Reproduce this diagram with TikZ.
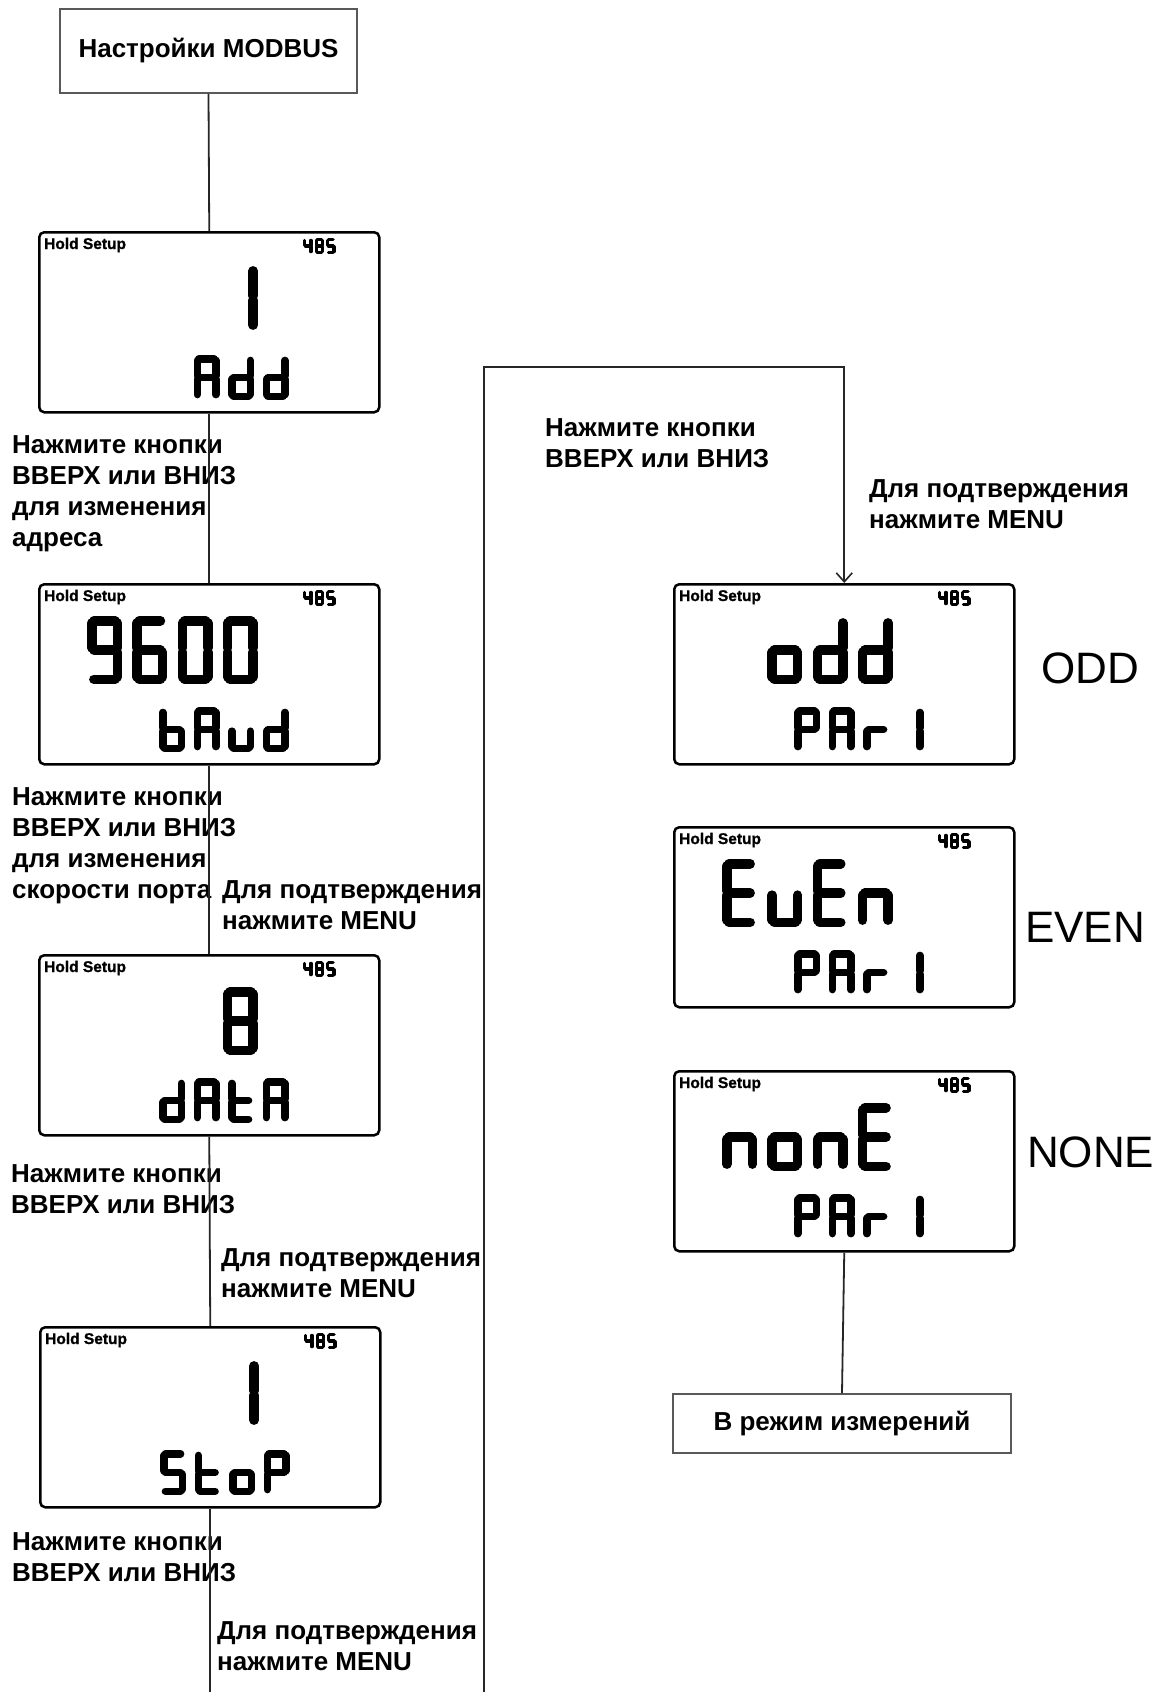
\documentclass[tikz,border=0pt]{standalone}
\usepackage{fontspec}
\setmainfont{Liberation Sans}
\newfontfamily\hdfont[FakeBold=1.2]{Liberation Sans Bold}
\usetikzlibrary{arrows.meta}

% seven-segment codes
\def\dgA{abcefg}
\def\dgd{bcdeg}
\def\dgb{cdefg}
\def\dgu{cde}
\def\dgt{defg}
\def\dgS{acdfg}
\def\dgo{cdeg}
\def\dgP{abefg}
\def\dgr{eg}
\def\dgE{adefg}
\def\dgn{ceg}
\def\dgzero{abcdef}
\def\dgone{bc}
\def\dgfour{bcfg}
\def\dgfive{acdfg}
\def\dgsix{acdefg}
\def\dgeight{abcdefg}
\def\dgnine{abcdfg}

\newcommand\sgone[1]{%
  \if#1a\draw[sgline] (\sgm,\sgm) -- (\sgr,\sgm);\fi
  \if#1b\draw[sgline] (\sgr,\sgm) -- (\sgr,\sgmid);\fi
  \if#1c\draw[sgline] (\sgr,\sgmid) -- (\sgr,\sgbt);\fi
  \if#1d\draw[sgline] (\sgm,\sgbt) -- (\sgr,\sgbt);\fi
  \if#1e\draw[sgline] (\sgm,\sgmid) -- (\sgm,\sgbt);\fi
  \if#1f\draw[sgline] (\sgm,\sgm) -- (\sgm,\sgmid);\fi
  \if#1g\draw[sgline] (\sgm,\sgmid) -- (\sgr,\sgmid);\fi}
\def\sgloop#1{\ifx#1\relax\else\sgone{#1}\expandafter\sgloop\fi}

\newcommand\sevseg[6]{%
  \pgfmathsetmacro\sgm{#5/2}%
  \pgfmathsetmacro\sgr{#3-#5/2}%
  \pgfmathsetmacro\sgmid{#4/2}%
  \pgfmathsetmacro\sgbt{#4-#5/2}%
  \pgfmathsetmacro\sgsh{#5*0.22}%
  \edef\sgtmp{#6}%
  \begin{scope}[shift={(#1,#2)}, sgline/.style={line width=#5pt, line cap=round, shorten <=\sgsh pt, shorten >=\sgsh pt}]
    \expandafter\sgloop\sgtmp\relax
  \end{scope}}

\newcommand\lcd[5]{%
  \node[lcdbox] (#1) at (#2,#3) {};
  \node[hdtext] (#1-hd) at (#2+6,#3+18) {Hold Setup};
  \foreach \k/\sgd in {0/\dgfour,1/\dgeight,2/\dgfive}{\sevseg{#2+265+\k*11.5}{#3+7}{9.5}{16}{3.4}{\sgd}}
  \foreach \k/\sgd in {#4}{\sevseg{#2+49+\k*45.3}{#3+33}{35}{68}{9.5}{\sgd}}
  \foreach \k/\sgd in {#5}{\sevseg{#2+121+\k*34.5}{#3+124}{26}{45}{7.5}{\sgd}}
}

\begin{document}
\begin{tikzpicture}[x=1pt,y=-1pt,
  lcdbox/.style={draw=black, line width=2.5pt, rounded corners=5pt, anchor=north west,
                 minimum width=340pt, minimum height=180pt, inner sep=0pt},
  hdtext/.style={font=\hdfont\fontsize{15.5}{15.5}\selectfont, inner sep=0pt, anchor=base west},
  plainbox/.style={draw=black!65, line width=1.6pt, inner sep=0pt,
                   font=\fontsize{26}{26}\selectfont\bfseries},
  lbl/.style={font=\fontsize{26}{31}\selectfont\bfseries, inner sep=0pt, anchor=base west},
  big/.style={font=\fontsize{44}{44}\selectfont, inner sep=0pt, anchor=base west},
  conn/.style={draw=black!85, line width=1.8pt}]
\fill[white] (0,0) rectangle (1164,1692);
\useasboundingbox (0,0) rectangle (1164,1692);

% boxes
\node[plainbox, minimum width=297pt, minimum height=84pt] (top) at (208.5,51) {Настройки MODBUS};
\node[plainbox, minimum width=338pt, minimum height=59pt] (meas) at (842,1423.5) {В режим измерений};

% LCD screens
\lcd{l1}{38}{231}{3/\dgone}{1/\dgA,2/\dgd,3/\dgd}
\lcd{l2}{38}{583}{0/\dgnine,1/\dgsix,2/\dgzero,3/\dgzero}{0/\dgb,1/\dgA,2/\dgu,3/\dgd}
\lcd{l3}{38}{954}{3/\dgeight}{0/\dgd,1/\dgA,2/\dgt,3/\dgA}
\lcd{l4}{39}{1326}{3/\dgone}{0/\dgS,1/\dgt,2/\dgo,3/\dgP}
\lcd{l5}{673}{583}{1/\dgo,2/\dgd,3/\dgd}{0/\dgP,1/\dgA,2/\dgr,3/\dgone}
\lcd{l6}{673}{826}{0/\dgE,1/\dgu,2/\dgE,3/\dgn}{0/\dgP,1/\dgA,2/\dgr,3/\dgone}
\lcd{l7}{673}{1070}{0/\dgn,1/\dgo,2/\dgn,3/\dgE}{0/\dgP,1/\dgA,2/\dgr,3/\dgone}

% labels
\node[lbl] (a1) at (12,453) {Нажмите кнопки};
\node[lbl] (a2) at (12,484) {ВВЕРХ или ВНИЗ};
\node[lbl] (a3) at (12,515) {для изменения};
\node[lbl] (a4) at (12,546) {адреса};

\node[lbl] (b1) at (12,805) {Нажмите кнопки};
\node[lbl] (b2) at (12,836) {ВВЕРХ или ВНИЗ};
\node[lbl] (b3) at (12,867) {для изменения};
\node[lbl] (b4) at (12,898) {скорости порта};
\node[lbl] (b5) at (222,898) {Для подтверждения};
\node[lbl] (b6) at (222,929) {нажмите MENU};

\node[lbl] (c1) at (11,1182) {Нажмите кнопки};
\node[lbl] (c2) at (11,1213) {ВВЕРХ или ВНИЗ};
\node[lbl] (c3) at (221,1266) {Для подтверждения};
\node[lbl] (c4) at (221,1297) {нажмите MENU};

\node[lbl] (d1) at (12,1550) {Нажмите кнопки};
\node[lbl] (d2) at (12,1581) {ВВЕРХ или ВНИЗ};
\node[lbl] (d3) at (217,1639) {Для подтверждения};
\node[lbl] (d4) at (217,1670) {нажмите MENU};

\node[lbl] (r1) at (545,436) {Нажмите кнопки};
\node[lbl] (r2) at (545,467) {ВВЕРХ или ВНИЗ};
\node[lbl] (r3) at (869,497) {Для подтверждения};
\node[lbl] (r4) at (869,528) {нажмите MENU};

\node[big] (odd) at (1041,683) {ODD};
\node[big] (even) at (1025,942) {EVEN};
\node[big] (none) at (1027,1167) {NONE};

% connectors
\coordinate (endL) at (207,1692);
\coordinate (endR) at (484,1692);
\coordinate (loopA) at (484,367);
\draw[conn] (top.south) -- (l1.north);
\draw[conn] (l1.south) -- (l2.north);
\draw[conn] (l2.south) -- (l3.north);
\draw[conn] (l3.south) -- (l4.north);
\draw[conn] (l4.south) -- (l4.south |- endL);
\draw[conn, -{Straight Barb[length=9pt,width=16pt,line width=1.6pt]}] (endR) -- (loopA) -- (loopA -| l5.north) -- (l5.north);
\draw[conn] (l7.south) -- (meas.north);
\end{tikzpicture}
\end{document}
